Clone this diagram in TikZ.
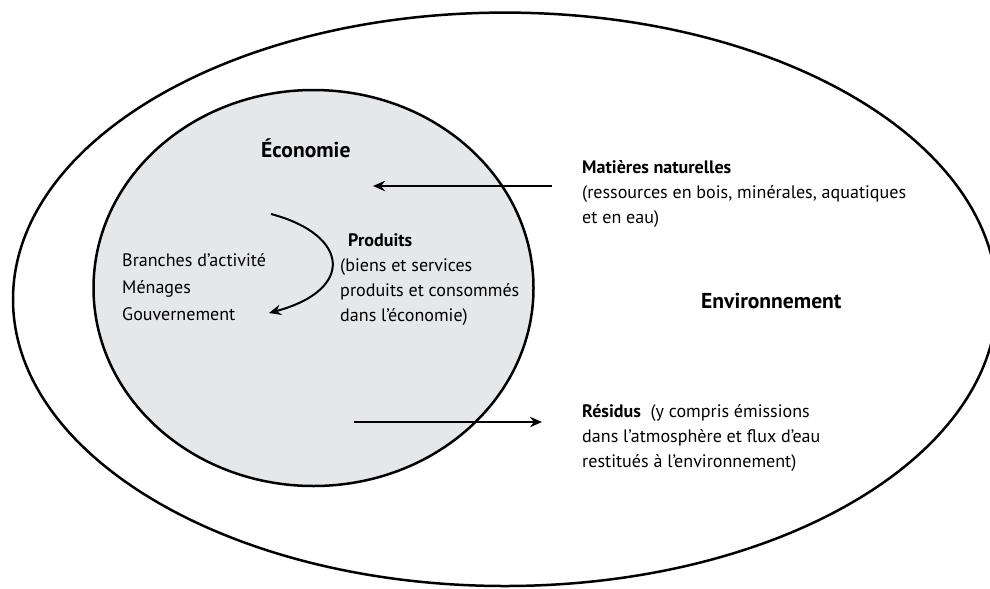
\documentclass[tikz,border=0pt]{standalone}
\usepackage{fontspec}
\setmainfont{PT Sans}
\usetikzlibrary{arrows.meta}
\definecolor{ecogrey}{RGB}{230,231,233}
\begin{document}
\begin{tikzpicture}[x=0.3mm,y=-0.3mm,>={Stealth[length=3.6mm,width=3.1mm,inset=1.2mm]},
  lbl/.style={anchor=base west, inner sep=0pt, align=left, font=\fontsize{15.4}{21.3}\selectfont},
  head/.style={lbl, font=\fontsize{18.4}{22}\selectfont\bfseries},
  flow/.style={->, line width=0.6mm}]
\useasboundingbox (0,0) rectangle (990,588);
\clip (0,0) rectangle (990,588);
\fill[white] (0,0) rectangle (990,588);
% environnement et economie
\draw[line width=0.75mm] (505,299.3) ellipse [x radius=492, y radius=286.7];
\draw[line width=0.75mm, fill=ecogrey] (313.5,288) ellipse [x radius=220, y radius=198];
% textes (ancre = ligne de base de la derniere ligne)
\node (eco) [head] at (261,157) {Économie};
\node (env) [head] at (701,308) {Environnement};
\node (agents) [lbl, font=\fontsize{15.4}{23}\selectfont] at (122,320) {Branches d’activité\\Ménages\\Gouvernement};
\node (prod) [lbl, font=\fontsize{15.4}{21.3}\selectfont\bfseries] at (348,246) {Produits};
\node (biens) [lbl] at (340,321) {(biens et services\\produits et consommés\\dans l’économie)};
\node (mat) [lbl] at (582,223) {\textbf{Matières naturelles}\\(ressources en bois, minérales, aquatiques\\et en eau)};
\node (res) [lbl] at (582,467) {\textbf{Résidus}\ \ (y compris émissions\\dans l’atmosphère et flux d’eau\\restitués à l’environnement)};
% flux
\coordinate (m1) at (552,186);
\coordinate (m2) at (373,186);
\coordinate (r1) at (354,422);
\coordinate (r2) at (542,422);
\coordinate (p1) at (271,214);
\coordinate (p2) at (269,313);
\draw[flow] (m1) -- (m2);
\draw[flow] (r1) -- (r2);
\draw[flow] (p1) .. controls (350,235) and (355,290) .. (p2);
\end{tikzpicture}
\end{document}
